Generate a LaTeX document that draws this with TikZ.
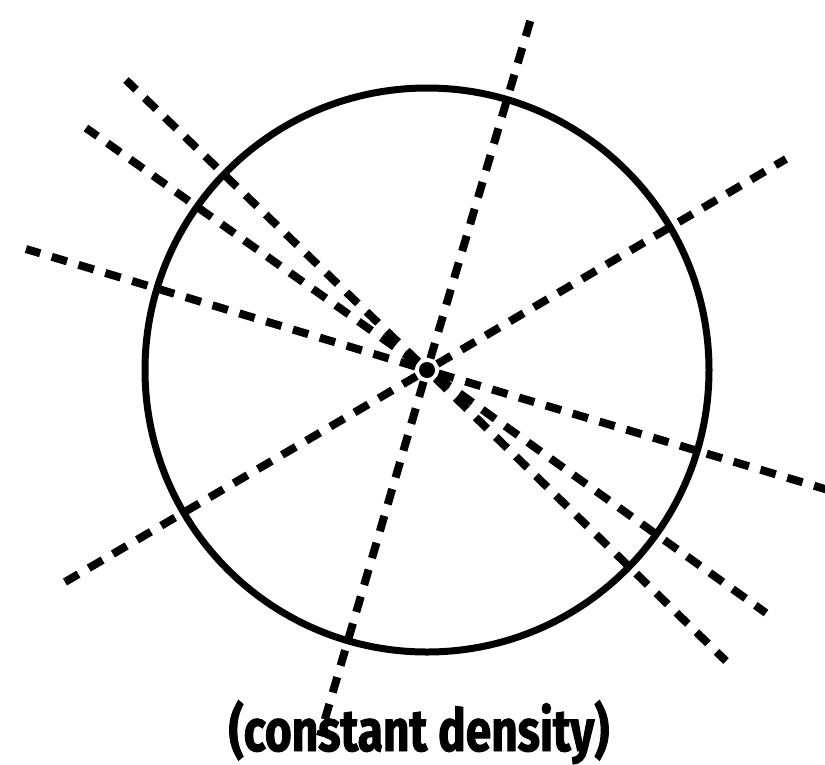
\documentclass[tikz,border=0pt]{standalone}
\usepackage{fontspec}
\newfontfamily\labelfont{Fira Sans}[FakeStretch=0.78,FakeBold=1.6]
\begin{document}
\begin{tikzpicture}[x=1pt,y=-1pt,
  ring/.style={draw=black,line width=7pt},
  ray/.style={draw=black,line width=8pt,dash pattern=on 16pt off 12pt,dash phase=16pt},
  dot/.style={circle,fill=black,inner sep=0pt,minimum size=16pt},
  caption/.style={font=\labelfont\bfseries\fontsize{59}{60}\selectfont,inner sep=0pt,anchor=base}]
\useasboundingbox (0,0) rectangle (825,764);
\clip (0,0) rectangle (825,764);
% circle
\node[circle,inner sep=0pt,minimum size=564pt,ring] (ball) at (427,370) {};
% end points of rays
\coordinate (aU) at (532,15);
\coordinate (aD) at (320,736);
\coordinate (bU) at (126,80);
\coordinate (bD) at (726,661);
\coordinate (cU) at (86,128);
\coordinate (cD) at (766,613);
\coordinate (dL) at (26,249);
\coordinate (dR) at (845,495);
\coordinate (eL) at (65,582);
\coordinate (eR) at (786,159);
% rays from the centre
\foreach \e in {aU,aD,bU,bD,cU,cD,dL,dR,eL,eR}
  \draw[ray] (ball.center) -- (\e);
\node[dot] (src) at (ball.center) {};
% caption
\node[caption] (cap) at (419,751) {(constant density)};
\end{tikzpicture}
\end{document}
